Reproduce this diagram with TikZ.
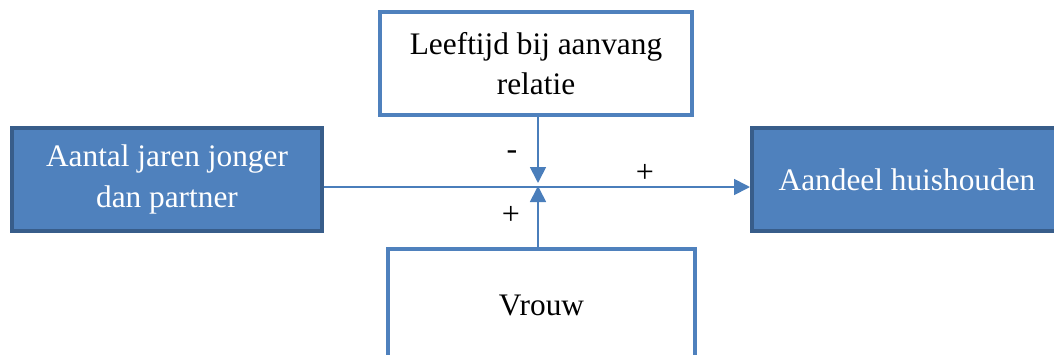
\documentclass[tikz,border=0pt]{standalone}
\usepackage{fontspec}
\setmainfont{Liberation Serif}
\definecolor{boxblue}{RGB}{79,129,189}
\definecolor{boxdark}{RGB}{56,93,138}
\definecolor{lineblue}{RGB}{74,126,187}
\usetikzlibrary{arrows.meta,positioning,calc}
\tikzset{
  varfill/.style={draw=boxdark, line width=3pt, fill=boxblue, text=white,
                  minimum width=#1, minimum height=77.25pt, align=center,
                  font=\fontsize{23.5}{31}\selectfont},
  varwhite/.style={draw=boxblue, line width=3pt, fill=white, text=black,
                   minimum width=#1, minimum height=77.25pt, align=center,
                   font=\fontsize{23.5}{30}\selectfont},
  effect/.style={draw=lineblue, line width=1.3pt,
                 -{Triangle[length=12pt, width=12pt]}},
  sign/.style={font=\fontsize{24}{28}\selectfont, inner sep=0pt},
}
\begin{document}
\begin{tikzpicture}[x=0.75pt, y=-0.75pt]
\useasboundingbox (0,0) rectangle (1054,354);
\begin{scope}
\clip (0,0) rectangle (1054,354);
% Variables
\node[varfill=232.5pt] (jaren) at (167,179.5) {Aantal jaren jonger\\dan partner};
\node[varwhite=234pt] (leeftijd) at (536,63.5) {Leeftijd bij aanvang\\relatie};
\node[varfill=232.5pt] (aandeel) at (907,179.5) {Aandeel huishouden};
\node[varwhite=230pt, minimum height=84pt] (vrouw) at (541.5,305) {Vrouw};

% Connectors
\coordinate (hub) at (538,187);
\draw[effect] (hub -| jaren.east) -- (hub -| aandeel.west);
\draw[effect] (leeftijd.south -| hub) -- ($(hub)+(0,-4)$);
\draw[effect] (vrouw.north -| hub) -- ($(hub)+(0,-1)$);

% Signs
\node[sign] (minlbl) at (512,155) {-};
\node[sign] (pluslbl) at (645,173) {+};
\node[sign] (vrouwlbl) at (511,215) {+};
\end{scope}
\end{tikzpicture}
\end{document}
